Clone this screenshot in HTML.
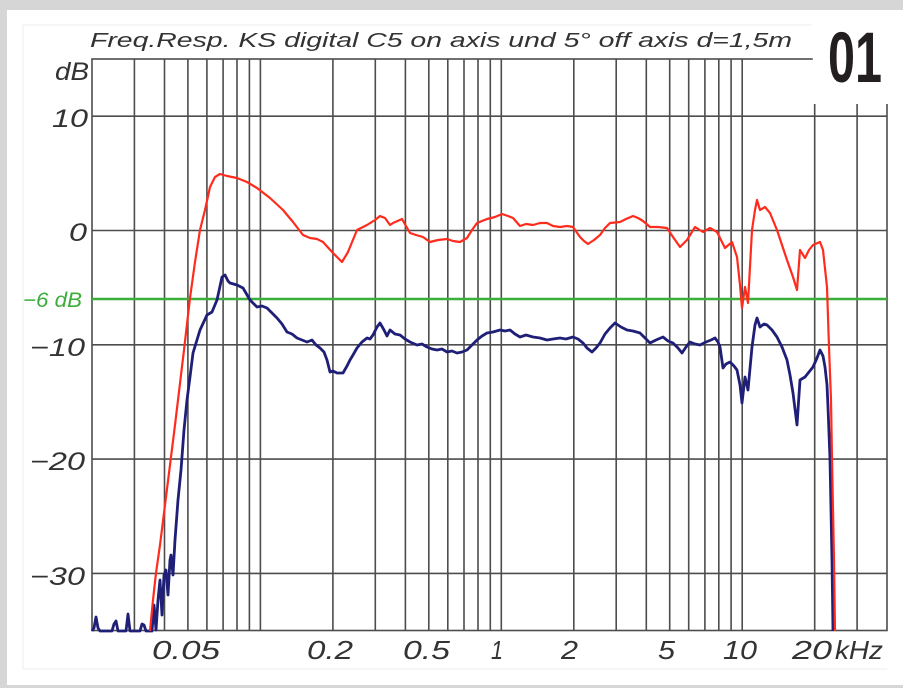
<!DOCTYPE html>
<html>
<head>
<meta charset="utf-8">
<style>
html,body{margin:0;padding:0;background:#d6d6d6;}
svg{display:block;}
text{font-family:"Liberation Sans",sans-serif;}
</style>
</head>
<body>
<svg width="903" height="688" viewBox="0 0 903 688" xmlns="http://www.w3.org/2000/svg">
<rect x="0" y="0" width="903" height="688" fill="#d6d6d6"/>
<rect x="7" y="10" width="896" height="675" fill="#ffffff"/>
<!-- faint inner panel -->
<path d="M23 669 L23 25 L812 25 M23 669 L887 669" stroke="#ececec" stroke-width="1" fill="none"/>

<!-- grid -->
<g stroke="#4d4d4d" stroke-width="1.6" fill="none">
<path d="M134.4 59V631M164.5 59V631M187.9 59V631M206.9 59V631M223.1 59V631M237 59V631M249.4 59V631M260.4 59V631
M332.9 59V631M375.3 59V631M405.4 59V631M428.8 59V631M447.8 59V631M464 59V631M478 59V631M490.3 59V631M501.3 59V631
M573.8 59V631M616.2 59V631M646.3 59V631M669.7 59V631M688.7 59V631M704.9 59V631M718.8 59V631M731.1 59V631M742.2 59V631
M814.7 59V631M857.1 59V631"/>
<path d="M92 116.2H887M92 230.5H887M92 344.8H887M92 459.1H887M92 573.4H887"/>
<rect x="92" y="59" width="795" height="571.5"/>
</g>

<!-- -6 dB line -->
<line x1="92" y1="299" x2="887" y2="299" stroke="#3cae3a" stroke-width="2.6"/>

<!-- blue curve -->
<polyline fill="none" stroke="#1f1f78" stroke-width="2.8" stroke-linejoin="round" points="
92,631 94,628 96,617 98,628 100,631 112,631 114,624 116,621 118,631 126,631 128,614 130,631 140,631 142,624 144,625 146,631 152,631 154,605 156,630 158,600 160,580 162,615 164,575 166,570 168,595 170,560 171,555 173,575 175,540 178,500 181,470 184,430 187,400 190,377 193,353 200,330 207,315 212,312 217,300 222,277 225,275 228,281 230,283 237,285 243,288 250,300 257,307 262,306 267,308 272,313 277,318 282,324 287,332 292,334 297,338 302,340 307,342 312,340 316,345 320,348 324,352 327,360 330,372 333,371 337,373 343,373 347,366 350,360 353,355 357,348 362,342 367,338 370,339 373,335 377,327 380,323 384,330 387,336 390,330 395,334 400,335 405,339 410,342 417,345 422,344 427,347 432,349 437,350 442,349 447,352 452,351 457,353 462,352 467,350 472,345 477,340 482,336 487,333 493,332 500,330 505,331 510,330 515,334 520,337 526,335 533,337 540,338 547,340 553,339 560,338 566,339 573,337 578,339 583,343 587,348 592,352 596,348 600,343 605,334 610,328 615,323 621,327 627,330 633,331 640,333 645,338 650,343 656,340 663,337 668,341 673,343 678,348 682,353 686,347 690,342 695,344 700,345 706,342 711,340 715,338 718,342 720,347 723,368 726,364 730,362 734,366 737,370 740,385 742,403 745,377 748,390 752,347 755,325 757,318 760,327 764,324 767,325 772,330 777,337 782,347 787,360 790,375 793,393 797,425 800,380 805,377 809,372 813,367 817,358 820,350 823,356 825,367 827,385 828,407 830,459 832,560 833,631"/>

<!-- red curve -->
<polyline fill="none" stroke="#ff2b1c" stroke-width="2.2" stroke-linejoin="round" points="
150,631 153,600 156,573 160,545 165,505 170,465 175,425 178,400 184,350 190,298 195,262 200,230 205,210 210,187 215,177 220,174 227,176 237,178 247,182 257,188 270,198 283,210 293,222 303,235 310,238 317,239 323,242 333,253 342,262 348,252 357,230 367,225 375,220 380,216 385,218 390,225 393,223 402,219 410,233 416,235 423,237 430,242 438,240 447,239 453,241 460,242 467,238 472,230 477,223 482,221 487,219 495,217 502,214 508,216 513,218 520,226 526,224 533,225 540,223 547,223 553,226 560,227 567,226 573,227 580,237 584,241 588,244 594,240 600,235 605,228 610,223 620,222 626,219 633,216 638,218 643,221 650,227 658,227 667,228 673,237 680,247 687,240 695,227 703,232 710,228 717,232 721,240 725,248 732,242 737,257 740,285 742,308 745,287 748,303 752,230 755,210 757,200 760,210 765,207 770,213 777,230 782,245 787,260 793,277 797,290 800,250 805,258 809,250 813,245 820,242 823,250 827,287 829,347 831,400 832,459 834,560 835,631"/>

<!-- 01 box -->
<rect x="812.8" y="10" width="90.2" height="94" fill="#ffffff"/>
<text x="828" y="82" font-size="71" font-weight="bold" fill="#231f20" textLength="54" lengthAdjust="spacingAndGlyphs">01</text>

<!-- title -->
<text x="90" y="47" font-size="20" font-style="italic" fill="#333" textLength="702" lengthAdjust="spacingAndGlyphs">Freq.Resp. KS digital C5 on axis und 5° off axis d=1,5m</text>

<!-- y labels -->
<g font-size="25" font-style="italic" fill="#333">
<text x="55" y="80" textLength="34" lengthAdjust="spacingAndGlyphs">dB</text>
<text x="52" y="127" textLength="36" lengthAdjust="spacingAndGlyphs">10</text>
<text x="69" y="241" textLength="18" lengthAdjust="spacingAndGlyphs">0</text>
<text x="30" y="356" textLength="55" lengthAdjust="spacingAndGlyphs">−10</text>
<text x="30" y="470" textLength="55" lengthAdjust="spacingAndGlyphs">−20</text>
<text x="30" y="585" textLength="55" lengthAdjust="spacingAndGlyphs">−30</text>
</g>
<text x="23" y="307" font-size="21" font-style="italic" fill="#3cae3a" textLength="59" lengthAdjust="spacingAndGlyphs">−6 dB</text>

<!-- x labels -->
<g font-size="26" font-style="italic" fill="#333">
<text x="152" y="659" textLength="68" lengthAdjust="spacingAndGlyphs">0.05</text>
<text x="307" y="659" textLength="46" lengthAdjust="spacingAndGlyphs">0.2</text>
<text x="403" y="659" textLength="47" lengthAdjust="spacingAndGlyphs">0.5</text>
<text x="491" y="659" textLength="12" lengthAdjust="spacingAndGlyphs">1</text>
<text x="561" y="659" textLength="17" lengthAdjust="spacingAndGlyphs">2</text>
<text x="658" y="659" textLength="17" lengthAdjust="spacingAndGlyphs">5</text>
<text x="723" y="659" textLength="34" lengthAdjust="spacingAndGlyphs">10</text>
<text x="792" y="659" textLength="40" lengthAdjust="spacingAndGlyphs">20</text>
<text x="835" y="659" textLength="48" lengthAdjust="spacingAndGlyphs">kHz</text>
</g>
</svg>
</body>
</html>
